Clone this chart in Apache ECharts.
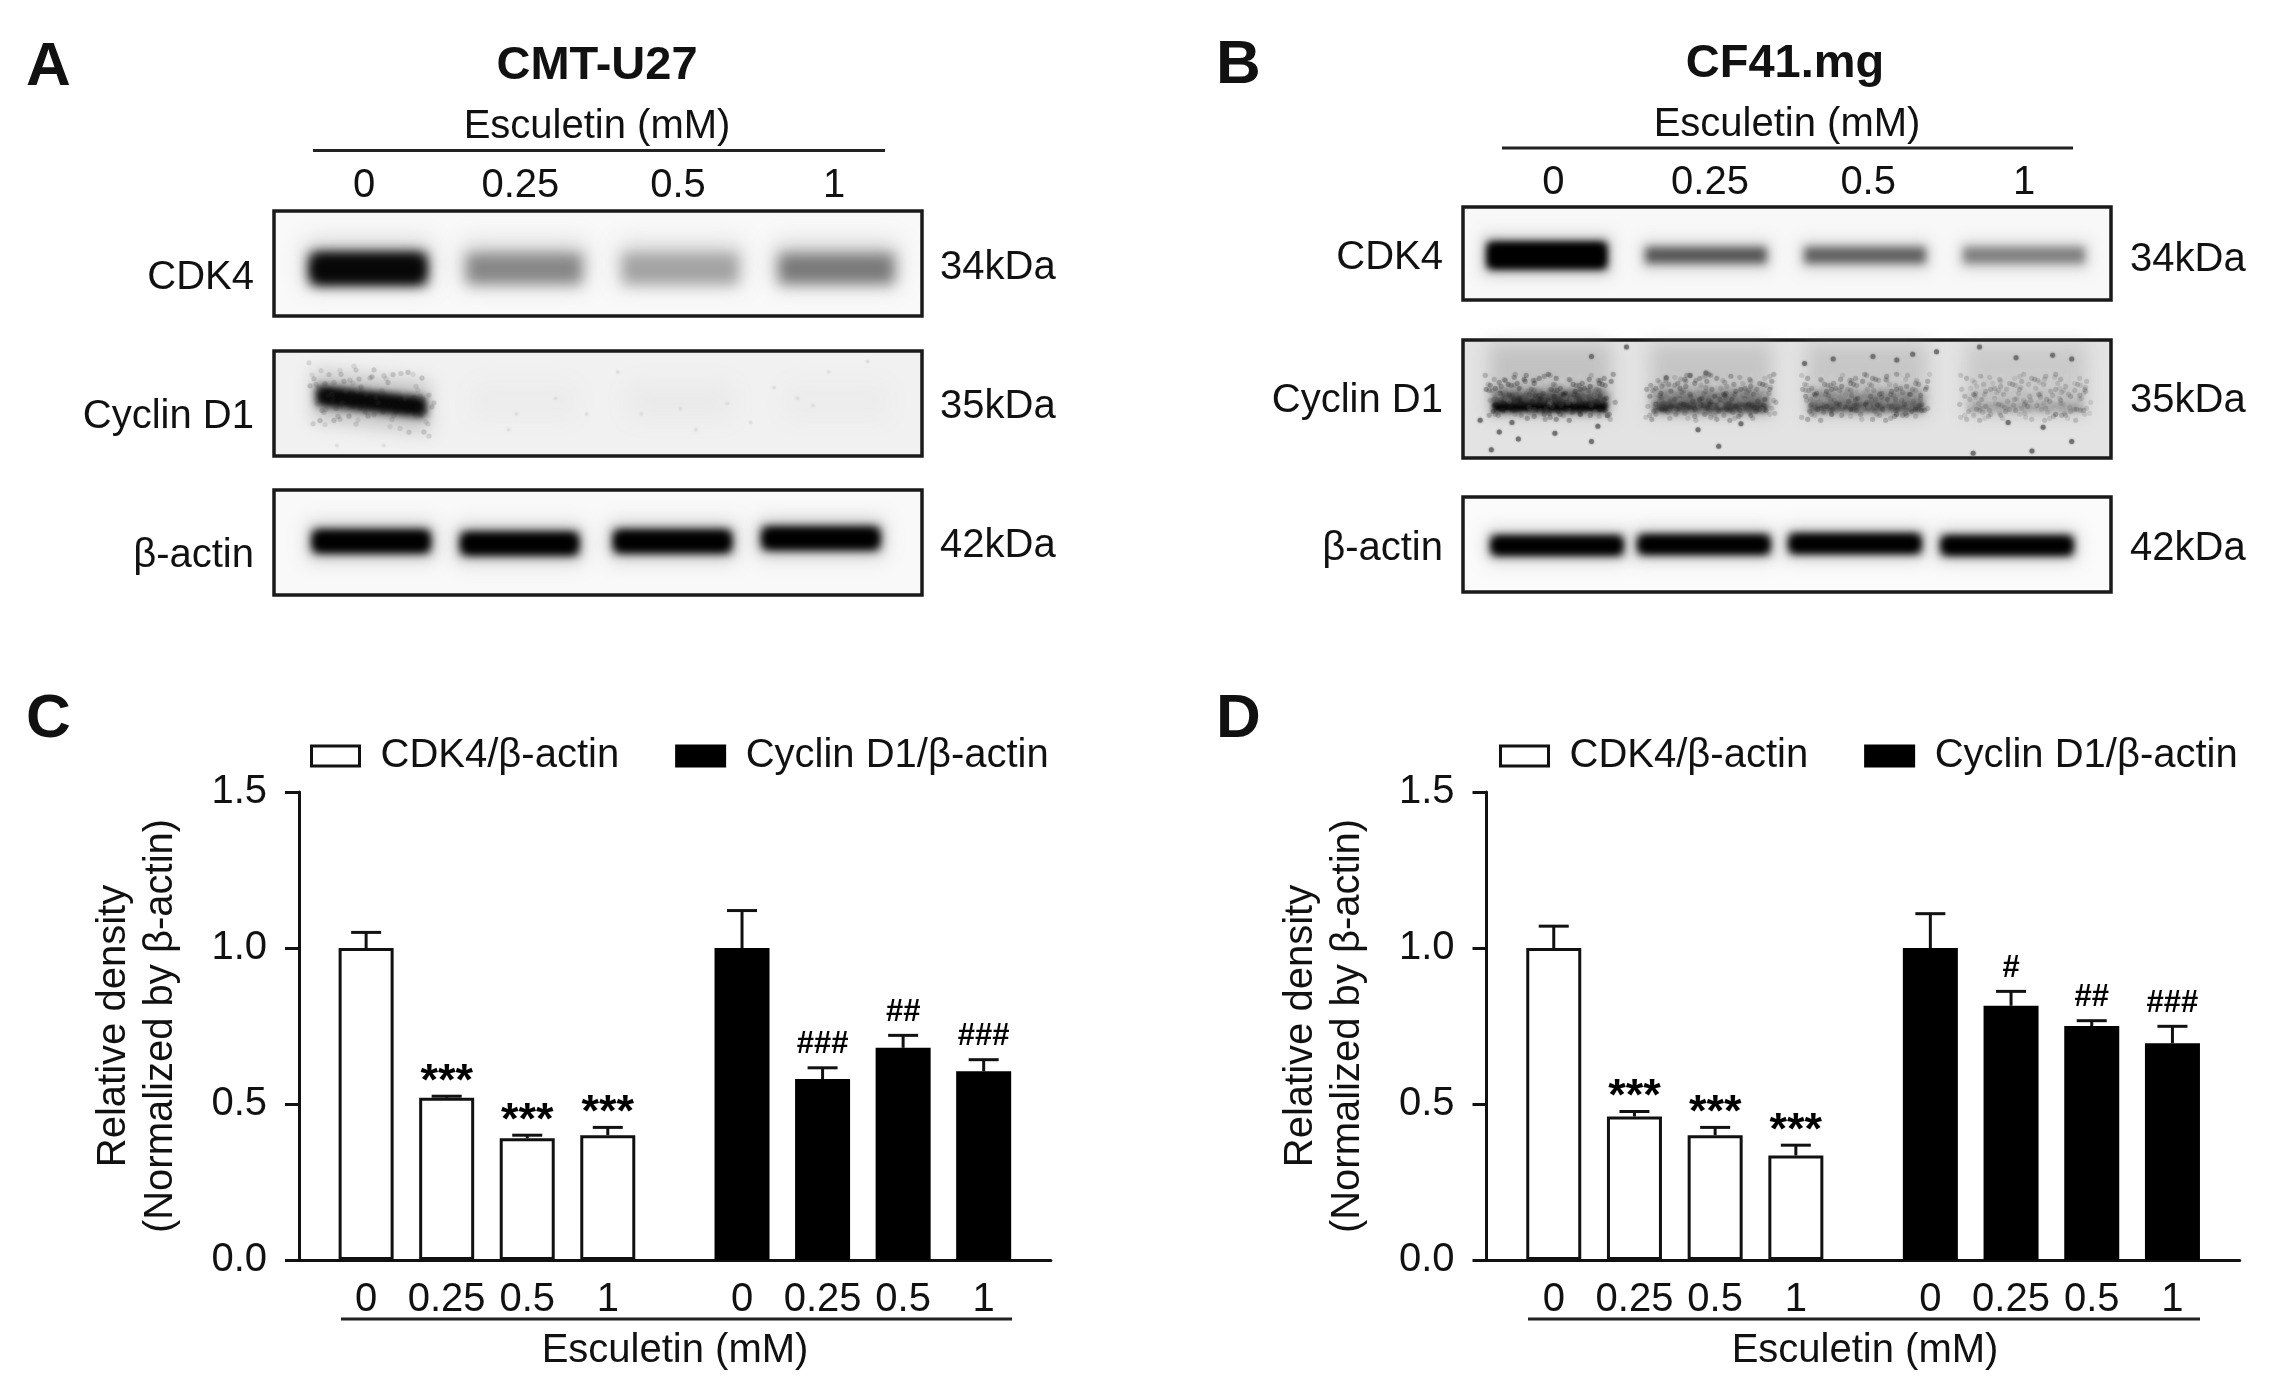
<!DOCTYPE html>
<html><head><meta charset="utf-8">
<style>html,body{margin:0;background:#fff}#c{width:2272px;height:1384px}</style>
<script src="https://cdn.jsdelivr.net/npm/echarts@6/dist/echarts.min.js"></script>
</head><body><div id="c"></div>
<script>
const doseLabels = ['0','0.25','0.5','1'];
const legendNames = ['CDK4/β-actin','Cyclin D1/β-actin'];

// Panel C
const cdk4C = [1.0,0.52,0.39,0.40];
const cdk4TopC = [1.05,0.525,0.40,0.425];
const cyclinC = [1.0,0.58,0.68,0.605];
const cyclinTopC = [1.12,0.616,0.72,0.642];
const cdk4SigC = ['','***','***','***'];
const cyclinSigC = ['','###','##','###'];
// Panel D
const cdk4D = [1.0,0.46,0.40,0.335];
const cdk4TopD = [1.07,0.476,0.425,0.368];
const cyclinD = [1.0,0.815,0.75,0.695];
const cyclinTopD = [1.11,0.861,0.767,0.749];
const cdk4SigD = ['','***','***','***'];
const cyclinSigD = ['','#','##','###'];
// Blot band darkness by lane
const blotA_cdk4 = [0.97,0.47,0.36,0.52];
const blotA_cyclin = [0.97,0.02,0.03,0.02];
const blotA_actin = [1,1,1,1];
const blotB_cdk4 = [1,0.66,0.62,0.5];
const blotB_cyclin = [0.72,0.55,0.48,0.26];
const blotB_actin = [1,1,1,1];
// Dust specks on the membranes: [lane, height fraction]
const specksB = [[-0.42,0.68],[-0.3,0.78],[-0.22,0.7],[-0.18,0.84],[0.05,0.79],[0.32,0.73],[0.28,0.86],[0.38,0.64],[-0.35,0.93],[0.95,0.76],[1.22,0.71],[1.08,0.9],[1.62,0.2],[1.8,0.16],[2.05,0.14],[2.2,0.17],[2.3,0.12],[2.45,0.1],[2.72,0.06],[2.95,0.15],[3.18,0.13],[3.3,0.16],[2.68,0.96],[3.05,0.94],[3.3,0.86],[0.5,0.06],[2.9,0.7],[3.12,0.74],[0.75,0.32],[0.9,0.3],[1.0,0.28],[0.28,0.14]];
const specksA = [[1.6,0.2],[2.0,0.55],[2.6,0.35],[2.95,0.2],[3.2,0.1],[1.2,0.45],[0.95,0.6],[2.1,0.75],[1.75,0.6],[-0.2,0.9],[0.1,0.9],[2.75,0.45],[2.85,0.52],[2.3,0.5],[0.9,0.75],[1.4,0.6],[2.45,0.68]];
// Membrane mottling pattern
const mottleA = [0.62,0.18,0.91,0.44,0.73,0.27,0.85,0.08,0.56,0.97,0.35,0.68,0.13,0.79,0.49,0.22,0.88];
const mottleJ = [-2,1,3,-1,2,-3,0,2,-2,3,1,-1,-3];

const FONT = '"Liberation Sans", Arial, sans-serif';
const INK = '#111';
const SLOTS = 28;
const barSlots = [2,5,8,11,16,19,22,25];
const categories = new Array(SLOTS).fill('');
barSlots.forEach((s,i)=>{categories[s]=doseLabels[i%4];});
const isBarSlot = i => barSlots.indexOf(i) >= 0;

const grid=[],xAxis=[],yAxis=[],series=[],legend=[];

function addBarPanel(left, slotW, legX, a, aTop, b, bTop, sigA, sigB){
  const g=grid.length;
  grid.push({left,top:792,width:slotW*SLOTS,height:468});
  xAxis.push({gridIndex:g,type:'category',data:categories,boundaryGap:true,
    axisLine:{lineStyle:{color:INK,width:3}},
    axisTick:{alignWithLabel:true,interval:i=>isBarSlot(i),length:14,lineStyle:{color:INK,width:3}},
    axisLabel:{interval:i=>isBarSlot(i),color:INK,fontSize:40,fontFamily:FONT,margin:20,hideOverlap:false},splitLine:{show:false}});
  yAxis.push({gridIndex:g,type:'value',min:0,max:1.5,interval:0.5,
    name:'Relative density\n(Normalized by β-actin)',nameLocation:'middle',nameRotate:90,nameGap:115,
    nameTextStyle:{color:INK,fontSize:40,fontFamily:FONT,lineHeight:47},
    axisLine:{show:true,lineStyle:{color:INK,width:3}},
    axisTick:{show:true,length:14,lineStyle:{color:INK,width:3}},
    axisLabel:{color:INK,fontSize:40,fontFamily:FONT,margin:32,formatter:v=>v.toFixed(1)},
    splitLine:{show:false}});
  const full=(vals,off)=>{const r=new Array(SLOTS).fill(null);vals.forEach((v,i)=>{r[barSlots[i+off]]=v;});return r;};
  const barBase={type:'bar',xAxisIndex:g,yAxisIndex:g,barWidth:55,barGap:'-100%',animation:false};
  series.push(Object.assign({},barBase,{name:legendNames[0],data:full(a,0),itemStyle:{color:'#fff',borderColor:INK,borderWidth:3}}));
  series.push(Object.assign({},barBase,{name:legendNames[1],data:full(b,4),itemStyle:{color:'#000',borderColor:'#000',borderWidth:3}}));
  const rows=[];
  a.forEach((v,i)=>rows.push([barSlots[i],v,aTop[i]]));
  b.forEach((v,i)=>rows.push([barSlots[i+4],v,bTop[i]]));
  const marks=sigA.concat(sigB);
  series.push({type:'custom',xAxisIndex:g,yAxisIndex:g,animation:false,silent:true,z:5,
    encode:{x:0,y:2},data:rows,
    renderItem(params,api){
      const p0=api.coord([api.value(0),api.value(1)]);
      const p1=api.coord([api.value(0),api.value(2)]);
      const cap=15;
      const ch=[
        {type:'line',shape:{x1:p0[0],y1:p0[1],x2:p1[0],y2:p1[1]},style:{stroke:INK,lineWidth:3}},
        {type:'line',shape:{x1:p1[0]-cap,y1:p1[1],x2:p1[0]+cap,y2:p1[1]},style:{stroke:INK,lineWidth:3}}
      ];
      const m=marks[params.dataIndex];
      if(m){
        const star=m[0]==='*';
        ch.push({type:'text',style:{text:m,x:p1[0],y:p1[1]-(star?14:23),textAlign:'center',textVerticalAlign:'middle',
          fontFamily:FONT,fontWeight:'bold',fontSize:star?45:31,fill:'#000'}});
      }
      return {type:'group',children:ch};
    }});
  legend.push({data:legendNames.map(name=>({name,icon:'rect'})),left:legX,top:731,itemWidth:48,itemHeight:20,itemGap:56,selectedMode:false,
    textStyle:{color:INK,fontSize:40,fontFamily:FONT,padding:[0,0,0,16]},
    itemStyle:{borderWidth:3}});
}

function grayOf(d){const v=Math.round(255*(1-d));return 'rgb('+v+','+v+','+v+')';}
const OFF=4000;
function softPoly(cx,cy,hw,hh,tilt,color,blur){
  return {type:'polygon',shape:{points:[[cx-hw-OFF,cy-hh-tilt],[cx+hw-OFF,cy-hh+tilt],[cx+hw-OFF,cy+hh+tilt],[cx-hw-OFF,cy+hh-tilt]]},
    style:{fill:'#000',shadowColor:color,shadowBlur:blur,shadowOffsetX:OFF}};
}
function addBlot(f,values,cfg){
  const g=grid.length;
  grid.push({left:f.left,top:f.top,width:f.w,height:f.h,show:true,backgroundColor:cfg.bg||'#f9f9f9',borderColor:'#1a1a1a',borderWidth:3.5});
  const xa={gridIndex:g,type:'value',min:f.xmin,max:f.xmax,axisLine:{show:false},axisTick:{show:false},splitLine:{show:false},axisLabel:{show:false}};
  if(cfg.labelAt){
    xa.position='top';
    xa.axisLabel={show:true,customValues:cfg.labelAt,margin:cfg.labelMargin,color:INK,fontSize:40,fontFamily:FONT,
      formatter:v=>doseLabels[Math.round(v)]};
  }
  xAxis.push(xa);
  yAxis.push({gridIndex:g,type:'value',min:0,max:1,inverse:true,show:false,splitLine:{show:false}});
  const dx=cfg.dx||[0,0,0,0], dy=cfg.dy||[0,0,0,0], hs=cfg.hs||[1,1,1,1];
  series.push({type:'custom',xAxisIndex:g,yAxisIndex:g,animation:false,silent:true,clip:false,
    data:values.map((d,i)=>[i,d]),encode:{x:0,y:1},
    renderItem(params,api){
      const i=api.value(0),d=api.value(1);
      const c=api.coord([i+dx[i],cfg.y+dy[i]]);
      const sz=api.size([cfg.w,cfg.h]);
      const blur=cfg.blur;
      const hw=sz[0]/2-blur*0.35, hh=sz[1]/2*hs[i]-blur*0.35;
      const tilt=cfg.tilt||0;
      const ch=[];
      const col=grayOf(d);
      if(d<0.1){
        ch.push(softPoly(c[0],c[1],hw,hh+10,0,'rgba(150,150,150,'+(d*2.2)+')',24));
        return {type:'group',children:ch};
      }
      const halo='rgba(140,140,140,'+(0.22+d*0.22)+')';
      ch.push(softPoly(c[0],c[1]-(cfg.haloUp||0),hw+4,hh+(cfg.haloH||8),tilt,halo,blur*1.7));
      ch.push(softPoly(c[0],c[1],hw,hh,tilt,col,blur));
      if(d>0.8) ch.push(softPoly(c[0],c[1],hw-2,hh-2,tilt,col,blur*0.8));
      if(cfg.core){
        ch.push(softPoly(c[0],c[1]+cfg.core,hw,Math.max(4,hh*0.4),0,grayOf(Math.min(1,d*1.35)),4));
      }
      if(cfg.mottle){
        const m=cfg.mottle;
        for(let r=0,y=c[1]-m.up;y<c[1]+m.down;r++,y+=m.step){
          for(let k=0,x=c[0]-hw-6;x<c[0]+hw+6;k++,x+=m.step){
            const a=mottleA[(k*5+r*3+i*7)%mottleA.length];
            const jx=mottleJ[(k*3+r)%mottleJ.length], jy=mottleJ[(k+r*4)%mottleJ.length];
            const tiltY=tilt*((x-c[0])/hw);
            const dark=a>0.42;
            const fill=dark?'rgba(25,25,25,'+(a*m.alpha*(0.35+d))+')':'rgba(225,225,225,'+(0.4*m.alpha*(1-a))+')';
            ch.push({type:'circle',shape:{cx:x+jx,cy:y+jy+tiltY,r:2.6},
              style:{fill,shadowColor:fill,shadowBlur:4}});
          }
        }
      }
      return {type:'group',children:ch};
    }});
  if(cfg.specks){
    series.push({type:'scatter',xAxisIndex:g,yAxisIndex:g,animation:false,silent:true,symbolSize:cfg.speckSize||3.5,
      data:cfg.specks,itemStyle:{color:cfg.speckColor||'#444',shadowColor:cfg.speckColor||'#444',shadowBlur:2}});
  }
}

// Blots, panel A
const xA={xmin:-0.603,xmax:3.548};
const labelA=[-0.025,0.975,1.985,2.985];
addBlot({left:274,top:211,w:648,h:105,...xA},blotA_cdk4,{y:0.55,h:0.38,w:0.8,blur:14,labelAt:labelA,labelMargin:5,haloH:6,haloUp:5});
addBlot({left:274,top:351,w:648,h:105,...xA},blotA_cyclin,{y:0.48,h:0.24,w:0.74,blur:10,tilt:6,dx:[0.02,0,0,0],bg:'#f1f1f1',specks:specksA,speckSize:3.5,speckColor:'#dcdcdc',haloH:16,
  mottle:{up:30,down:32,step:8,alpha:0.14}});
addBlot({left:274,top:490,w:648,h:105,...xA},blotA_actin,{y:0.49,h:0.28,w:0.8,blur:11,dx:[0.02,-0.03,-0.05,-0.1],dy:[0,0.02,0,-0.03],haloH:7});
// Blots, panel B
const xB={xmin:-0.528,xmax:3.547};
const labelB=[0.04,1.025,2.02,3];
addBlot({left:1463,top:207,w:648,h:93,...xB},blotB_cdk4,{y:0.52,h:0.24,w:0.8,blur:9,hs:[1.5,1,1,1],labelAt:labelB,labelMargin:4,haloH:6,bg:'#f8f8f8'});
addBlot({left:1463,top:340,w:648,h:118,...xB},blotB_cyclin,{y:0.52,h:0.24,w:0.76,blur:10,core:6,haloUp:22,haloH:26,dx:[0.02,0.03,0.01,0.01],bg:'#e3e3e3',specks:specksB,speckSize:5,speckColor:'#6a6a6a',
  mottle:{up:24,down:17,step:5,alpha:0.3}});
addBlot({left:1463,top:497,w:648,h:95,...xB},blotB_actin,{y:0.51,h:0.27,w:0.87,blur:10,dx:[0.063,-0.013,-0.063,-0.107],dy:[0,-0.01,-0.02,0],haloH:6,bg:'#fbfbfb'});

// Bar panels
addBarPanel(299,26.85,305,cdk4C,cdk4TopC,cyclinC,cyclinTopC,cdk4SigC,cyclinSigC);
addBarPanel(1486.5,26.9,1494,cdk4D,cdk4TopD,cyclinD,cyclinTopD,cdk4SigD,cyclinSigD);

function T(text,x,y,size,align,bold){
  return {type:'text',z:50,silent:true,style:{text,x,y,textAlign:align||'center',textVerticalAlign:'middle',
    fontFamily:FONT,fontSize:size,fontWeight:bold?'bold':'normal',fill:INK}};
}
function L(x1,x2,y){return {type:'line',z:50,silent:true,shape:{x1,y1:y,x2,y2:y},style:{stroke:'#222',lineWidth:3}};}
const graphic=[
  T('A',26,68,62,'left',true),T('B',1216,66,62,'left',true),T('C',26,720,62,'left',true),T('D',1216,720,62,'left',true),
  T('CMT-U27',597,66,47,'center',true),T('CF41.mg',1785,64,47,'center',true),
  T('Esculetin (mM)',597,127,40),T('Esculetin (mM)',1787,125,40),
  L(313,885,150.5),L(1502,2073,148),
  T('CDK4',254,278,40,'right'),T('Cyclin D1',254,417,40,'right'),T('β-actin',254,556,40,'right'),
  T('34kDa',940,268,40,'left'),T('35kDa',940,407,40,'left'),T('42kDa',940,546,40,'left'),
  T('CDK4',1443,258,40,'right'),T('Cyclin D1',1443,401,40,'right'),T('β-actin',1443,549,40,'right'),
  T('34kDa',2130,260,40,'left'),T('35kDa',2130,401,40,'left'),T('42kDa',2130,549,40,'left'),
  L(341,1012,1319),L(1528,2200,1319),
  T('Esculetin (mM)',675,1351,40),T('Esculetin (mM)',1865,1351,40)
];

const chart=echarts.init(document.getElementById('c'),null,{renderer:'canvas'});
chart.setOption({animation:false,backgroundColor:'#fff',tooltip:{show:false},grid,xAxis,yAxis,series,legend,graphic});
</script></body></html>
